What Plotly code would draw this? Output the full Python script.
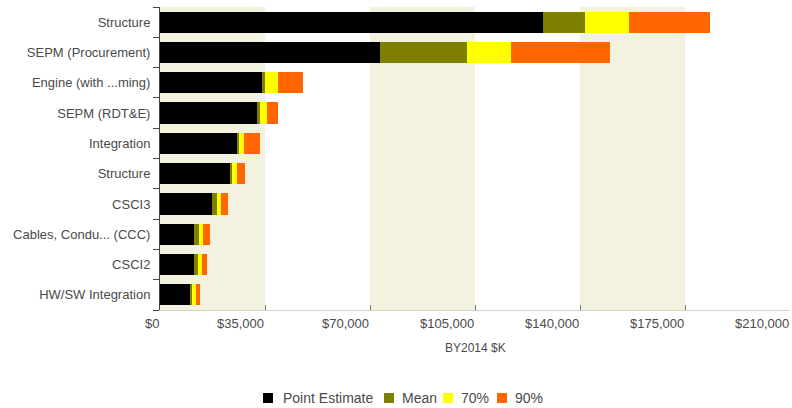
import plotly.graph_objects as go

# Cost elements, top to bottom
categories = [
    "Structure",
    "SEPM (Procurement)",
    "Engine (with ...ming)",
    "SEPM (RDT&E)",
    "Integration",
    "Structure",
    "CSCI3",
    "Cables, Condu... (CCC)",
    "CSCI2",
    "HW/SW Integration",
]

# Cumulative cost levels (BY2014 $K)
point_estimate = [127600, 73300, 33900, 32400, 25800, 23600, 17300, 11300, 11400, 10000]
mean_level = [141500, 102200, 35000, 33300, 26200, 24000, 18900, 12900, 12500, 10800]
pct70_level = [156200, 117000, 39200, 35800, 28000, 25600, 20200, 14400, 13900, 12000]
pct90_level = [183300, 150000, 47500, 39200, 33300, 28400, 22600, 16700, 15600, 13300]

x_ticks = [0, 35000, 70000, 105000, 140000, 175000, 210000]
x_tick_labels = ["$0", "$35,000", "$70,000", "$105,000", "$140,000", "$175,000", "$210,000"]

series_names = ["Point Estimate", "Mean", "70%", "90%"]
series_colors = ["#000000", "#808000", "#ffff00", "#ff6600"]

FONT = "Liberation Sans, Arial, sans-serif"
TEXT = "#4a4a4a"

# Plot-area geometry in pixels (used for the legend row below the axis)
W, H = 792, 408
M_L, M_R, M_T, M_B = 160, 2, 7, 98
PW, PH = W - M_L - M_R, H - M_T - M_B


def px_x(px):
    return (px - M_L) / PW


def px_y(py):
    return (H - M_B - py) / PH


levels = [point_estimate, mean_level, pct70_level, pct90_level]
positions = list(range(len(categories)))

fig = go.Figure()
prev = [0] * len(categories)
for name, color, lev in zip(series_names, series_colors, levels):
    seg = [b - a for a, b in zip(prev, lev)]
    fig.add_trace(go.Bar(
        y=positions, x=seg, name=name, orientation="h",
        marker=dict(color=color, line=dict(width=0)),
        hoverinfo="skip", showlegend=False,
    ))
    prev = lev

# Alternating background bands between x ticks
for i in range(0, len(x_ticks) - 1, 2):
    fig.add_shape(type="rect", xref="x", yref="paper",
                  x0=x_ticks[i], x1=x_ticks[i + 1], y0=0, y1=1,
                  fillcolor="#f3f2df", line=dict(width=0), layer="below")

# Tick labels, right-aligned to their tick
for v, t in zip(x_ticks, x_tick_labels):
    fig.add_annotation(x=v, y=px_y(323), xref="x", yref="paper", text=t,
                       showarrow=False, xanchor="right", yanchor="middle",
                       xshift=1, font=dict(family=FONT, size=13, color=TEXT))

fig.add_annotation(x=0.5, y=px_y(348), xref="paper", yref="paper", text="BY2014 $K",
                   showarrow=False, xanchor="center", yanchor="middle",
                   font=dict(family=FONT, size=12, color=TEXT))

# Legend row: colour swatch followed by its label
legend_swatch_px = [268, 389, 448, 502]
legend_text_px = [281, 400, 459, 513]
legend_row_py = 398
for name, color, sx, tx in zip(series_names, series_colors, legend_swatch_px, legend_text_px):
    fig.add_shape(type="rect", xref="paper", yref="paper",
                  xsizemode="pixel", ysizemode="pixel",
                  xanchor=px_x(sx), yanchor=px_y(legend_row_py),
                  x0=-5, x1=5, y0=-5, y1=5,
                  fillcolor=color, line=dict(width=0))
    fig.add_annotation(x=px_x(tx), y=px_y(legend_row_py), xref="paper", yref="paper",
                       text=name, showarrow=False, xanchor="left", yanchor="middle",
                       font=dict(family=FONT, size=14, color=TEXT))

fig.update_layout(
    width=W, height=H,
    margin=dict(l=M_L, r=M_R, t=M_T, b=M_B, autoexpand=False),
    barmode="stack", bargap=0.3,
    paper_bgcolor="white", plot_bgcolor="white",
    font=dict(family=FONT, size=13, color=TEXT),
    showlegend=False,
    xaxis=dict(range=[0, 210000], tickvals=x_ticks, showticklabels=False,
               ticks="inside", ticklen=5, tickcolor="#777", showgrid=False,
               zeroline=False, showline=True, linecolor="#cfcfcf", linewidth=1),
    yaxis=dict(range=[len(categories) - 0.5, -0.5], tickvals=positions, ticktext=categories,
               ticks="outside", ticklen=6, tickcolor="rgba(0,0,0,0)",
               minor=dict(tickvals=[p - 0.5 for p in positions] + [len(categories) - 0.5],
                          ticks="outside", ticklen=6, tickcolor="#444", showgrid=False),
               showgrid=False, zeroline=False, showline=True, linecolor="#444", linewidth=1,
               tickfont=dict(family=FONT, size=13, color=TEXT)),
)

fig.write_html("out.html")
